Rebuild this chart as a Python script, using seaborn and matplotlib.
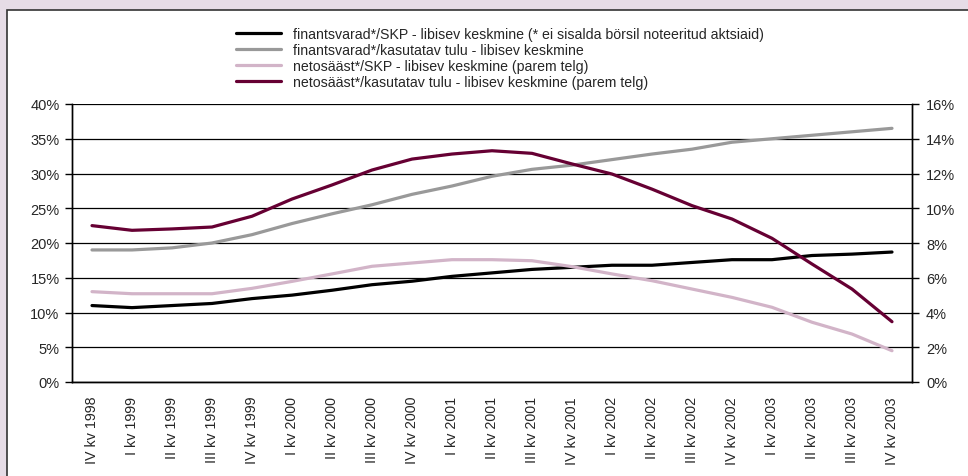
import numpy as np
import pandas as pd
import seaborn as sns
import matplotlib.pyplot as plt
from matplotlib.patches import Rectangle
from matplotlib.ticker import FixedLocator, FuncFormatter

quarters = ['IV kv 1998', 'I kv 1999', 'II kv 1999', 'III kv 1999', 'IV kv 1999',
            'I kv 2000', 'II kv 2000', 'III kv 2000', 'IV kv 2000',
            'I kv 2001', 'II kv 2001', 'III kv 2001', 'IV kv 2001',
            'I kv 2002', 'II kv 2002', 'III kv 2002', 'IV kv 2002',
            'I kv 2003', 'II kv 2003', 'III kv 2003', 'IV kv 2003']

# left axis (%)
fin_skp = [11.0, 10.7, 11.0, 11.3, 12.0, 12.5, 13.2, 14.0, 14.5, 15.2, 15.7,
           16.2, 16.5, 16.8, 16.8, 17.2, 17.6, 17.6, 18.2, 18.4, 18.7]
fin_tulu = [19.0, 19.0, 19.3, 20.0, 21.2, 22.8, 24.2, 25.5, 27.0, 28.2, 29.6,
            30.6, 31.2, 32.0, 32.8, 33.5, 34.5, 35.0, 35.5, 36.0, 36.5]
# right axis (%)
saast_skp = [5.2, 5.08, 5.08, 5.08, 5.39, 5.79, 6.22, 6.66, 6.85, 7.04, 7.04,
             6.98, 6.64, 6.22, 5.83, 5.35, 4.87, 4.30, 3.44, 2.76, 1.80]
saast_tulu = [9.0, 8.73, 8.81, 8.92, 9.54, 10.53, 11.34, 12.2, 12.83, 13.12, 13.31,
              13.16, 12.55, 11.97, 11.1, 10.15, 9.38, 8.27, 6.79, 5.35, 3.47]

labels = ['finantsvarad*/SKP - libisev keskmine (* ei sisalda börsil noteeritud aktsiaid)',
          'finantsvarad*/kasutatav tulu - libisev keskmine',
          'netosääst*/SKP - libisev keskmine (parem telg)',
          'netosääst*/kasutatav tulu - libisev keskmine (parem telg)']
colors = ['#000000', '#999999', '#D2B4C8', '#660033']

df = pd.DataFrame({'kv': quarters, 'pos': np.arange(len(quarters)),
                   'fin_skp': fin_skp, 'fin_tulu': fin_tulu,
                   'saast_skp': saast_skp, 'saast_tulu': saast_tulu})

sns.set_style('white')
plt.rcParams['font.family'] = ['Liberation Sans', 'DejaVu Sans']

fig = plt.figure(figsize=(9.68, 4.77), dpi=100)
fig.patch.set_facecolor('#E6DCE6')
fig.patches.append(Rectangle((7 / 968, -0.01), 1, 1.01 - 11 / 477, transform=fig.transFigure,
                             facecolor='white', edgecolor='#333333', lw=1.2, zorder=-10))

ax = fig.add_axes([72 / 968, 1 - 383 / 477, 840 / 968, 278 / 477])
ax.set_facecolor('none')
ax2 = ax.twinx()
ax2.set_facecolor('none')

lw = 2.3
sns.lineplot(data=df, x='pos', y='fin_tulu', ax=ax, color=colors[1], lw=lw, label=labels[1], legend=False)
sns.lineplot(data=df, x='pos', y='fin_skp', ax=ax, color=colors[0], lw=lw, label=labels[0], legend=False)
sns.lineplot(data=df, x='pos', y='saast_skp', ax=ax2, color=colors[2], lw=lw, label=labels[2], legend=False)
sns.lineplot(data=df, x='pos', y='saast_tulu', ax=ax2, color=colors[3], lw=lw, label=labels[3], legend=False)

ax.set_xlim(-0.5, len(quarters) - 0.5)
ax.set_ylim(0, 40)
ax2.set_ylim(0, 16)
ax.set_yticks(np.arange(0, 41, 5))
ax2.set_yticks(np.arange(0, 17, 2))
ax.yaxis.set_major_formatter(FuncFormatter(lambda v, p: f'{v:.0f}%'))
ax2.yaxis.set_major_formatter(FuncFormatter(lambda v, p: f'{v:.0f}%'))

ax.set_xticks(df['pos'])
ax.set_xticklabels(quarters, rotation=90)
ax.xaxis.set_minor_locator(FixedLocator(np.arange(-0.5, len(quarters), 1)))
ax.tick_params(axis='x', which='major', length=0, pad=10, labelsize=10.3)
ax.tick_params(axis='x', which='minor', length=5, width=1, color='black', direction='out')
ax.tick_params(axis='y', length=5, width=1, color='black', direction='out', labelsize=10.5, pad=4)
ax2.tick_params(axis='y', length=5, width=1, color='black', direction='out', labelsize=10.5, pad=5)

ax.grid(axis='y', color='black', lw=0.9)
ax.set_axisbelow(True)
for a in (ax, ax2):
    a.set_xlabel('')
    a.set_ylabel('')
    a.spines['top'].set_visible(False)
    for s in ('left', 'right', 'bottom'):
        a.spines[s].set_color('black')
        a.spines[s].set_linewidth(1)

handles = ax.get_lines()[::-1] + ax2.get_lines()
order = [labels.index(h.get_label()) for h in handles]
handles = [h for _, h in sorted(zip(order, handles), key=lambda t: t[0])]
fig.legend(handles, labels, loc='upper left', bbox_to_anchor=(236 / 968, 1 - 28 / 477),
           frameon=False, fontsize=10.2, handlelength=3.2, handletextpad=0.8,
           labelspacing=0.15, borderaxespad=0, borderpad=0)

fig.savefig('out.png', dpi=100, facecolor=fig.get_facecolor())
